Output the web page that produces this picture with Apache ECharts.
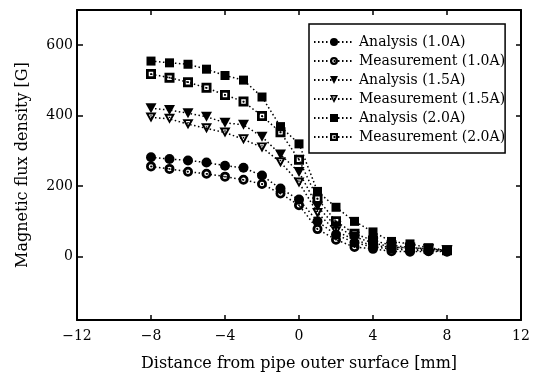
<!DOCTYPE html>
<html>
<head>
<meta charset="utf-8">
<script src="https://cdn.jsdelivr.net/npm/echarts@6/dist/echarts.min.js"></script>
<style>
  html, body { margin: 0; padding: 0; background: #fff; }
  #chart { width: 540px; height: 378px; }
</style>
</head>
<body>
<div id="chart"></div>
<script>
// distance from pipe outer surface [mm]
var distances = [-8, -7, -6, -5, -4, -3, -2, -1, 0, 1, 2, 3, 4, 5, 6, 7, 8];

// magnetic flux density [G]
var analysis10 = [282, 277, 273, 267, 258, 252, 230, 193, 162, 100, 62, 40, 27, 22, 18, 17, 15];
var measure10  = [256, 249, 241, 235, 227, 218, 206, 179, 146, 78, 48, 27, 22, 15, 14, 15, 14];
var analysis15 = [421, 416, 407, 397, 380, 374, 340, 290, 240, 142, 86, 56, 39, 27, 25, 22, 17];
var measure15  = [395, 391, 376, 364, 352, 333, 310, 268, 210, 124, 72, 48, 31, 27, 22, 20, 17];
var analysis20 = [555, 550, 546, 532, 514, 501, 453, 369, 320, 185, 140, 100, 70, 43, 36, 25, 18];
var measure20  = [518, 508, 495, 479, 459, 440, 399, 353, 275, 164, 100, 65, 46, 32, 26, 22, 18];

var yTicks = [0, 200, 400, 600];

var FONT = 'DejaVu Serif';

// hollow markers with a dot in the middle (thick outline like the print)
var ringDot = 'path://M0,-10 A10,10 0 1,1 0,10 A10,10 0 1,1 0,-10 Z M0,-4.5 A4.5,4.5 0 1,0 0,4.5 A4.5,4.5 0 1,0 0,-4.5 Z M0,-1.8 A1.8,1.8 0 1,1 0,1.8 A1.8,1.8 0 1,1 0,-1.8 Z';
var squareDot = 'path://M-10,-10 L10,-10 L10,10 L-10,10 Z M-4.5,-4.5 L-4.5,4.5 L4.5,4.5 L4.5,-4.5 Z M-1.8,-1.8 L1.8,-1.8 L1.8,1.8 L-1.8,1.8 Z';
var triDown = 'path://M-10,-8 L10,-8 L0,10 Z';
var triDownDot = 'path://M-10,-8 L10,-8 L0,10 Z M-4,-4.5 L0,3 L4,-4.5 Z M-1.3,-3 L1.3,-3 L1.3,-0.5 L-1.3,-0.5 Z';

function pairs(vals) {
    return distances.map(function (d, i) { return [d, vals[i]]; });
}

function mkSeries(name, vals, symbol, size) {
    return {
        name: name,
        type: 'line',
        data: pairs(vals),
        symbol: symbol,
        symbolSize: size,
        showAllSymbol: true,
        lineStyle: { color: '#000', width: 1.5, type: [1.5, 2.5] },
        itemStyle: { color: '#000', borderWidth: 0 },
        animation: false
    };
}

var chart = echarts.init(document.getElementById('chart'));

var fmtMinus = function (v) { return String(v).replace('-', '\u2212'); };

var boxLine = { onZero: false, lineStyle: { color: '#000', width: 2 } };

chart.setOption({
    backgroundColor: '#fff',
    textStyle: { fontFamily: FONT, color: '#000' },
    grid: { left: 77, right: 19, top: 10, bottom: 58 },
    legend: {
        orient: 'vertical',
        left: 309,
        top: 24,
        padding: [11, 0, 9, 4],
        itemGap: 5,
        itemWidth: 40,
        itemHeight: 10,
        borderColor: '#000',
        borderWidth: 1.5,
        backgroundColor: '#fff',
        textStyle: { fontFamily: FONT, fontSize: 14, color: '#000' },
        data: ['Analysis (1.0A)', 'Measurement (1.0A)', 'Analysis (1.5A)',
               'Measurement (1.5A)', 'Analysis (2.0A)', 'Measurement (2.0A)']
    },
    xAxis: [{
        type: 'value',
        min: -12, max: 12, interval: 4,
        name: 'Distance from pipe outer surface [mm]',
        nameLocation: 'middle',
        nameGap: 36,
        nameTextStyle: { fontFamily: FONT, fontSize: 16, color: '#000' },
        axisLine: boxLine,
        axisTick: { inside: true, length: 5, lineStyle: { color: '#000', width: 1.5 } },
        axisLabel: { fontFamily: FONT, fontSize: 14, color: '#000', margin: 9, formatter: fmtMinus },
        splitLine: { show: false }
    }, {
        type: 'value',
        position: 'top',
        min: -12, max: 12, interval: 4,
        axisLine: boxLine,
        axisTick: { inside: true, length: 5, lineStyle: { color: '#000', width: 1.5 } },
        axisLabel: { show: false },
        splitLine: { show: false }
    }],
    yAxis: [{
        type: 'value',
        min: -180, max: 700,
        name: 'Magnetic flux density [G]',
        nameLocation: 'middle',
        nameGap: 46,
        nameTextStyle: { fontFamily: FONT, fontSize: 16, color: '#000' },
        axisLine: boxLine,
        axisTick: { inside: true, length: 6, customValues: yTicks, lineStyle: { color: '#000', width: 1.5 } },
        axisLabel: { fontFamily: FONT, fontSize: 14, color: '#000', margin: 4, customValues: yTicks },
        splitLine: { show: false }
    }, {
        type: 'value',
        position: 'right',
        min: -180, max: 700,
        axisLine: { show: true, onZero: false, lineStyle: { color: '#000', width: 2 } },
        axisTick: { show: true, inside: true, length: 5, customValues: yTicks, lineStyle: { color: '#000', width: 1.5 } },
        axisLabel: { show: false },
        splitLine: { show: false }
    }],
    series: [
        mkSeries('Analysis (1.0A)', analysis10, 'circle', 10),
        mkSeries('Measurement (1.0A)', measure10, ringDot, 10),
        mkSeries('Analysis (1.5A)', analysis15, triDown, [11, 10]),
        mkSeries('Measurement (1.5A)', measure15, triDownDot, [11, 10]),
        mkSeries('Analysis (2.0A)', analysis20, 'rect', 9),
        mkSeries('Measurement (2.0A)', measure20, squareDot, 10)
    ]
});
</script>
</body>
</html>
